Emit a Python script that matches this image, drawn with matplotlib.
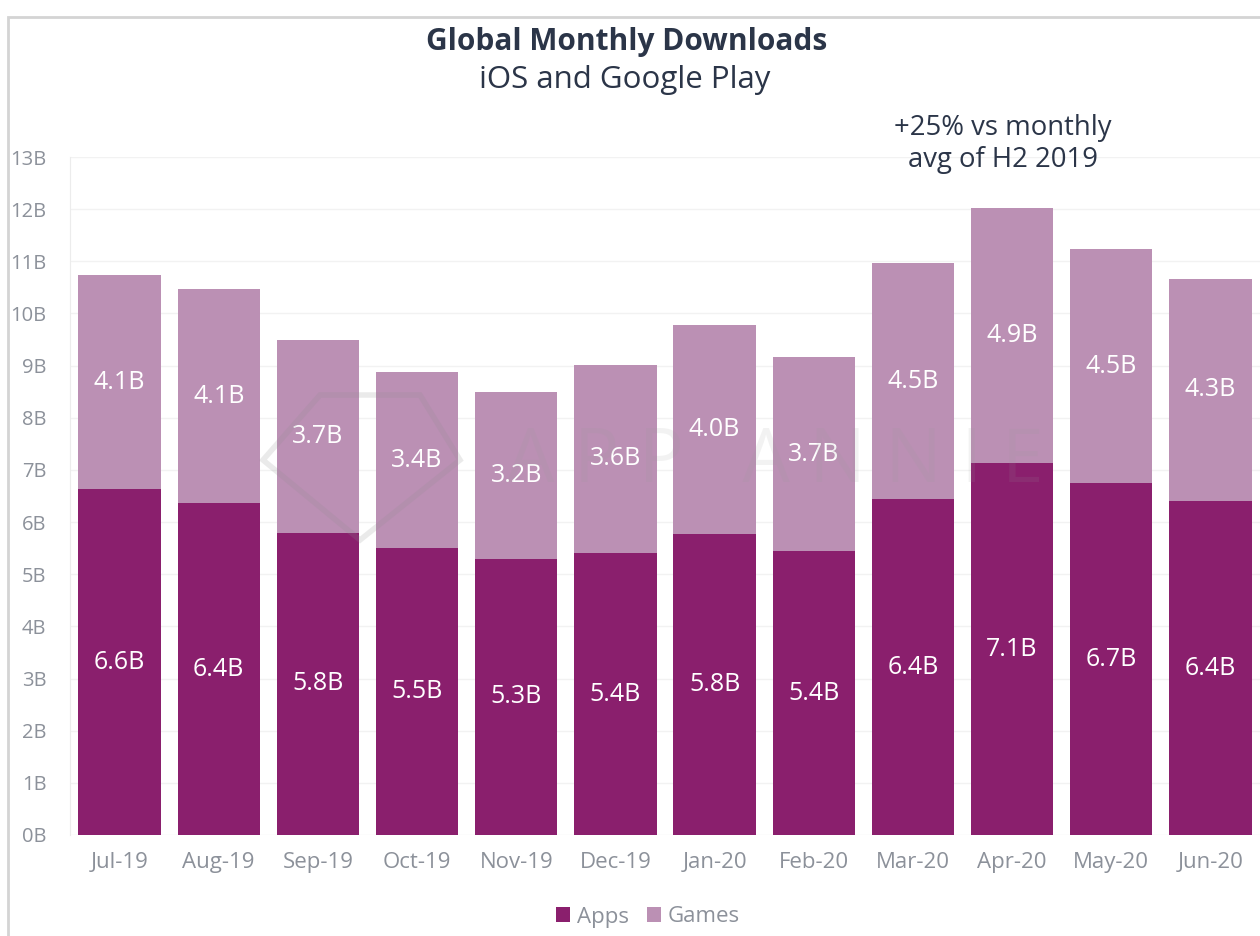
import numpy as np
import matplotlib.pyplot as plt
from matplotlib.patches import Rectangle, Polygon

months = ['Jul-19', 'Aug-19', 'Sep-19', 'Oct-19', 'Nov-19', 'Dec-19',
          'Jan-20', 'Feb-20', 'Mar-20', 'Apr-20', 'May-20', 'Jun-20']
# downloads in billions
apps = [6.63, 6.36, 5.80, 5.50, 5.30, 5.40, 5.77, 5.44, 6.44, 7.13, 6.74, 6.40]
games = [4.10, 4.10, 3.70, 3.37, 3.20, 3.62, 4.00, 3.72, 4.52, 4.90, 4.50, 4.27]
yticks = list(range(0, 14))

c_apps = '#8a1f6d'
c_games = '#bb90b4'
c_text = '#2b3548'
c_tick = '#8c919a'

plt.rcParams['font.family'] = ['Open Sans', 'DejaVu Sans']

fig = plt.figure(figsize=(12.6, 9.36), dpi=100)
W, H = 1260, 936

# light frame around the chart
fig.patches.append(Rectangle((8 / W, -0.05), 1.1, 1 - 17 / H + 0.05,
                             transform=fig.transFigure, fill=False,
                             edgecolor='#d4d4d4', linewidth=2.0))

ax = fig.add_axes([70 / W, (H - 835) / H, 1190 / W, 678 / H])
x = np.arange(len(months))
ax.bar(x, apps, width=0.83, color=c_apps, label='Apps', zorder=2)
ax.bar(x, games, width=0.83, bottom=apps, color=c_games, label='Games', zorder=2)

for i in range(len(months)):
    ax.text(x[i], apps[i] / 2, '%.1fB' % apps[i], ha='center', va='center',
            color='white', fontsize=18, zorder=3)
    ax.text(x[i], apps[i] + games[i] / 2, '%.1fB' % games[i], ha='center',
            va='center', color='white', fontsize=18, zorder=3)

ax.set_xlim(-0.5, 11.5)
ax.set_ylim(0, 13)
ax.set_yticks(yticks)
ax.set_yticklabels(['%dB' % v for v in yticks])
ax.set_xticks(x)
ax.set_xticklabels(months)
ax.tick_params(axis='both', length=0, colors=c_tick, labelsize=14.5)
ax.tick_params(axis='x', pad=12, labelsize=16)
ax.tick_params(axis='y', pad=17)
ax.grid(axis='y', color='#f2f2f2', linewidth=1, zorder=0)
for s in ['top', 'right', 'bottom']:
    ax.spines[s].set_visible(False)
ax.spines['left'].set_color('#ececec')

# faint watermark (logo + wordmark)
gem = [(320, 395), (420, 395), (460, 460), (360, 540), (263, 460)]
fig.patches.append(Polygon([(px / W, 1 - py / H) for px, py in gem], closed=True,
                           fill=False, edgecolor='#8f8f8f', alpha=0.18,
                           linewidth=4, transform=fig.transFigure, zorder=5))
fig.text(775 / W, 1 - 462 / H, 'A P P   A N N I E', ha='center', va='center',
         fontsize=54, color='#9a9a9a', alpha=0.12, zorder=5)

fig.text(627 / W, 1 - 42 / H, 'Global Monthly Downloads', ha='center',
         va='center', fontsize=21.5, fontweight='bold', color=c_text)
fig.text(625 / W, 1 - 80 / H, 'iOS and Google Play', ha='center',
         va='center', fontsize=22.5, color=c_text)
fig.text(1003 / W, 1 - 144 / H, '+25% vs monthly\navg of H2 2019', ha='center',
         va='center', fontsize=19.8, color=c_text, linespacing=1.15)

leg = fig.legend(loc='center', bbox_to_anchor=(648 / W, 1 - 917 / H), ncol=2,
                 frameon=False, fontsize=16, handlelength=0.65, handleheight=0.65,
                 handletextpad=0.3, columnspacing=0.8)
for t in leg.get_texts():
    t.set_color(c_tick)

fig.savefig('out.png', dpi=100)
